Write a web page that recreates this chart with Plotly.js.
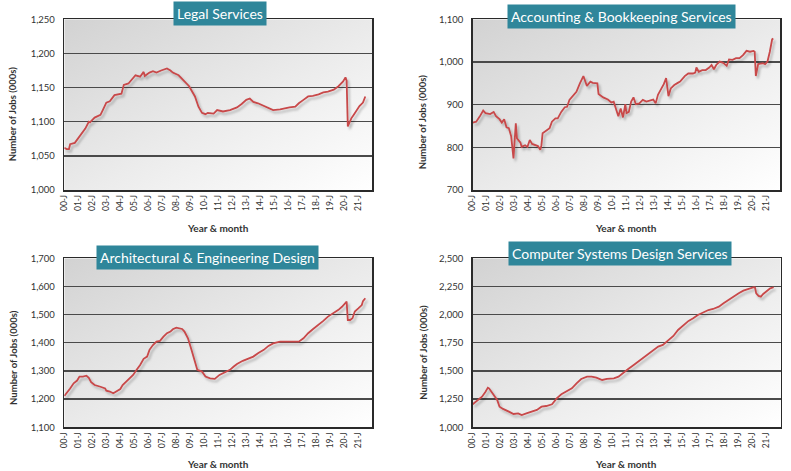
<!DOCTYPE html>
<html>
<head>
<meta charset="utf-8">
<script src="https://cdn.plot.ly/plotly-3.0.1.min.js"></script>
<style>html,body{margin:0;padding:0;background:#fff;}#chart{width:791px;height:471px;}</style>
</head>
<body>
<div id="chart"></div>
<script>
// Month index: 0 = January 2000
const yearTicks = [0,12,24,36,48,60,72,84,96,108,120,132,144,156,168,180,192,204,216,228,240,252];
const yearLabels = ["00-J","01-J","02-J","03-J","04-J","05-J","06-J","07-J","08-J","09-J","10-J","11-J","12-J","13-J","14-J","15-J","16-J","17-J","18-J","19-J","20-J","21-J"];

const panelTitles = ["Legal Services","Accounting & Bookkeeping Services","Architectural & Engineering Design","Computer Systems Design Services"];

const legalMonths = [0,2,4,5,9,13,18,21,22,26,31,33,36,39,43,49,51,55,58,61,65,68,69,73,76,79,83,88,91,93,98,102,107,112,115,118,121,123,128,131,136,142,148,152,156,159,162,166,171,175,179,185,189,193,198,201,205,209,213,218,222,226,231,235,239,241,242,243,244,246,248,251,253,256,258];
const legalJobs = [1062,1060,1060,1067,1069,1078,1090,1100,1099,1106,1110,1117,1128,1130,1139,1141,1154,1156,1162,1168,1166,1173,1167,1172,1174,1172,1175,1178,1175,1172,1168,1161,1152,1137,1122,1113,1111,1113,1112,1117,1115,1117,1121,1126,1132,1134,1129,1127,1123,1120,1117,1118,1120,1121,1122,1127,1132,1137,1138,1140,1143,1144,1147,1152,1159,1165,1160,1093,1097,1105,1110,1117,1123,1128,1137];

const acctMonths = [0,3,6,9,11,15,18,20,23,25,27,29,31,33,35,37,38,41,42,45,47,49,51,54,56,58,59,60,63,66,68,71,73,76,79,81,83,86,89,92,95,98,101,103,107,108,112,116,119,121,123,125,127,129,131,132,134,136,138,140,143,146,149,152,155,157,159,162,164,166,168,170,173,176,178,182,185,189,191,192,194,197,200,203,205,207,209,212,215,218,220,223,226,229,232,235,238,241,242,243,245,247,249,251,253,255,257,258];
const acctJobs = [858,860,872,886,880,878,883,873,866,858,866,847,845,826,774,856,821,811,801,805,801,817,808,805,803,794,805,833,839,845,860,868,868,883,894,895,911,920,930,950,967,944,954,951,950,925,917,912,905,907,891,873,891,870,901,880,883,907,917,901,903,911,907,909,912,903,923,938,948,962,920,938,946,951,954,967,973,973,975,987,977,981,981,987,993,983,993,1001,998,991,1006,1005,1009,1009,1016,1026,1024,1026,1024,967,995,996,997,995,1001,1024,1053,1055];

const archMonths = [0,2,5,8,11,13,16,19,21,23,26,31,35,36,39,42,45,48,50,53,56,59,62,65,68,71,73,76,79,82,85,88,91,93,96,101,103,106,109,112,114,118,121,125,129,133,138,142,145,148,153,158,162,166,171,175,179,185,191,196,201,205,209,213,218,222,226,231,235,238,241,242,243,245,247,249,252,255,256,258];
const archJobs = [1211,1221,1238,1256,1266,1280,1280,1283,1276,1260,1250,1244,1238,1230,1227,1221,1229,1236,1250,1262,1274,1286,1304,1321,1343,1351,1375,1392,1404,1407,1422,1434,1440,1448,1454,1449,1440,1416,1375,1327,1304,1298,1280,1274,1272,1286,1295,1304,1315,1325,1336,1345,1351,1363,1375,1389,1398,1404,1404,1402,1404,1416,1434,1448,1463,1478,1493,1505,1517,1528,1540,1546,1481,1481,1487,1511,1522,1534,1548,1558];

const compMonths = [0,3,8,11,13,14,17,21,23,26,31,35,39,42,46,51,55,59,63,68,72,76,81,85,89,93,98,102,106,111,115,121,125,129,133,138,142,146,151,155,159,163,168,172,176,181,185,189,193,198,202,206,211,215,219,223,228,232,236,241,242,243,245,247,249,252,255,258];
const compJobs = [1204,1228,1272,1316,1352,1346,1302,1242,1183,1163,1139,1118,1124,1109,1124,1139,1154,1183,1189,1204,1257,1293,1322,1346,1390,1429,1450,1450,1441,1420,1429,1435,1450,1479,1515,1553,1583,1618,1657,1686,1716,1731,1775,1811,1864,1908,1944,1967,1997,2021,2041,2050,2071,2101,2130,2160,2189,2213,2228,2243,2240,2189,2166,2160,2183,2210,2234,2243];

const yRanges = [[1000,1250],[700,1100],[1100,1700],[1000,2500]];
const yDticks = [50,100,100,250];

const seriesX = [legalMonths, acctMonths, archMonths, compMonths];
const seriesY = [legalJobs, acctJobs, archJobs, compJobs];

const W = 791, H = 471;
// plot boxes in pixels [left, right, top, bottom]
const boxes = [[64.3,372.3,19.3,190],[472.7,780.3,19.3,190],[64.3,372.3,258.3,427.3],[472.7,780.7,258.3,427.3]];
const titleBoxes = [[219.5,14],[621.5,17],[207.5,257],[619.5,253]];
const yTitlePos = [[13.3,114],[423.3,122],[13.3,357.6],[422.7,352]];
const xTitlePos = [[218,227.7],[626,227.7],[218,464],[626,464.3]];

const FONT = "Lato, 'DejaVu Sans', sans-serif";
const gradSvg = '<svg xmlns="http://www.w3.org/2000/svg" width="100" height="100" viewBox="0 0 100 100" preserveAspectRatio="none"><defs><linearGradient id="g" x1="0" y1="0" x2="1" y2="1"><stop offset="0" stop-color="#d2d2d2"/><stop offset="0.55" stop-color="#ececec"/><stop offset="1" stop-color="#ffffff"/></linearGradient></defs><rect width="100" height="100" fill="url(#g)"/></svg>';
const gradUri = 'data:image/svg+xml;utf8,' + encodeURIComponent(gradSvg);

const traces = [];
const layout = {
  width: W, height: H,
  margin: {l:0, r:0, t:0, b:0},
  paper_bgcolor: '#ffffff',
  plot_bgcolor: 'rgba(0,0,0,0)',
  showlegend: false,
  font: {family: FONT, color: '#333'},
  annotations: [],
  images: []
};

for (let i = 0; i < 4; i++) {
  const n = i === 0 ? '' : String(i + 1);
  const b = boxes[i];
  traces.push({
    x: seriesX[i], y: seriesY[i],
    xaxis: 'x' + n, yaxis: 'y' + n,
    type: 'scatter', mode: 'lines',
    line: {color: '#c8484a', width: 1.8},
    hoverinfo: 'skip'
  });
  layout['xaxis' + n] = {
    domain: [b[0] / W, b[1] / W],
    anchor: 'y' + n,
    range: [0, 264],
    tickmode: 'array', tickvals: yearTicks, ticktext: yearLabels,
    tickangle: -90,
    tickfont: {size: 8.5, color: '#333', family: FONT},
    showgrid: false, zeroline: false,
    showline: true, linecolor: '#2a2a2a', linewidth: 1.5, mirror: true,
    ticks: ''
  };
  layout['yaxis' + n] = {
    domain: [1 - b[3] / H, 1 - b[2] / H],
    anchor: 'x' + n,
    range: yRanges[i], dtick: yDticks[i], tick0: yRanges[i][0],
    tickformat: ',d',
    tickfont: {size: 9.5, color: '#333', family: FONT},
    showgrid: true, gridcolor: '#4a4a4a', gridwidth: 1.3,
    zeroline: false,
    showline: true, linecolor: '#2a2a2a', linewidth: 1.5, mirror: true,
    ticks: '', ticklabelstandoff: 6
  };
  layout.images.push({
    source: gradUri, xref: 'x' + n + ' domain', yref: 'y' + n + ' domain',
    x: 0, y: 1, sizex: 1, sizey: 1, xanchor: 'left', yanchor: 'top',
    sizing: 'stretch', layer: 'below'
  });
  layout.annotations.push({
    text: panelTitles[i], xref: 'paper', yref: 'paper',
    x: titleBoxes[i][0] / W, y: 1 - titleBoxes[i][1] / H,
    xanchor: 'center', yanchor: 'middle', showarrow: false,
    bgcolor: '#2f869a', borderpad: 3,
    font: {family: FONT, size: 14, color: '#ffffff'}
  });
  layout.annotations.push({
    text: '<b>Number of Jobs (000s)</b>', xref: 'paper', yref: 'paper',
    x: yTitlePos[i][0] / W, y: 1 - yTitlePos[i][1] / H,
    xanchor: 'center', yanchor: 'middle', showarrow: false, textangle: -90,
    font: {family: FONT, size: 9.5, color: '#333'}
  });
  layout.annotations.push({
    text: '<b>Year &amp; month</b>', xref: 'paper', yref: 'paper',
    x: xTitlePos[i][0] / W, y: 1 - xTitlePos[i][1] / H,
    xanchor: 'center', yanchor: 'middle', showarrow: false,
    font: {family: FONT, size: 10, color: '#333'}
  });
}

Plotly.newPlot('chart', traces, layout, {staticPlot: true, displayModeBar: false}).then(function(gd) {
  const svg = gd.querySelector('.main-svg');
  const ns = 'http://www.w3.org/2000/svg';
  let defs = svg.querySelector('defs');
  if (!defs) { defs = document.createElementNS(ns, 'defs'); svg.insertBefore(defs, svg.firstChild); }
  const f = document.createElementNS(ns, 'filter');
  f.setAttribute('id', 'lineShadow');
  f.setAttribute('x', '-5%'); f.setAttribute('y', '-20%');
  f.setAttribute('width', '110%'); f.setAttribute('height', '140%');
  const ds = document.createElementNS(ns, 'feDropShadow');
  ds.setAttribute('dx', '2'); ds.setAttribute('dy', '2.5');
  ds.setAttribute('stdDeviation', '1');
  ds.setAttribute('flood-color', '#000'); ds.setAttribute('flood-opacity', '0.25');
  f.appendChild(ds); defs.appendChild(f);
  gd.querySelectorAll('.scatterlayer .trace path.js-line').forEach(function(p) {
    p.setAttribute('filter', 'url(#lineShadow)');
  });
});
</script>
</body>
</html>
